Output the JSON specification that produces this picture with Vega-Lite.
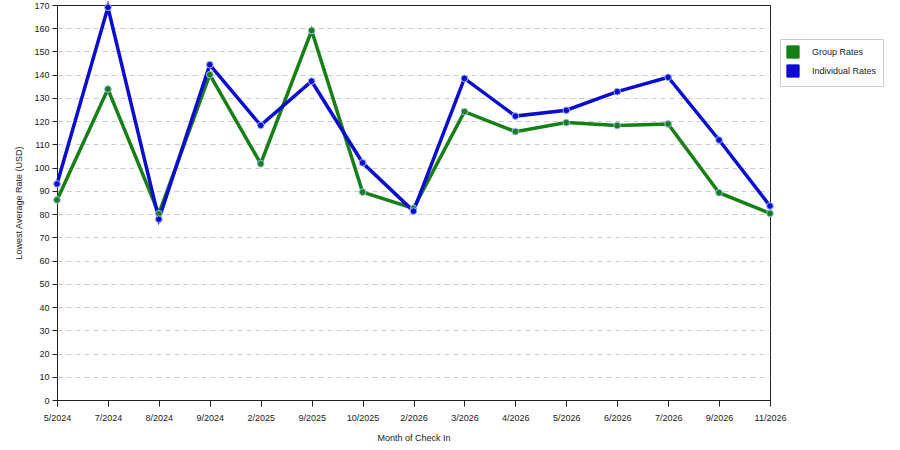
{
  "$schema": "https://vega.github.io/schema/vega-lite/v6.json",
  "width": 713,
  "height": 395,
  "autosize": {"type": "none"},
  "padding": {"left": 57, "top": 5, "right": 130, "bottom": 50},
  "config": {
    "font": "Liberation Sans",
    "view": {"stroke": "#222", "strokeWidth": 1},
    "axis": {
      "labelFont": "Liberation Sans",
      "titleFont": "Liberation Sans",
      "labelFontSize": 9,
      "titleFontSize": 9,
      "titleFontWeight": "normal",
      "labelColor": "#222",
      "titleColor": "#222",
      "domainColor": "#222",
      "tickColor": "#222"
    }
  },
  "data": {
    "values": [
      {"month": "5/2024", "series": "Group Rates", "rate": 86.1},
      {"month": "7/2024", "series": "Group Rates", "rate": 133.8},
      {"month": "8/2024", "series": "Group Rates", "rate": 80.2},
      {"month": "9/2024", "series": "Group Rates", "rate": 140},
      {"month": "2/2025", "series": "Group Rates", "rate": 101.7},
      {"month": "9/2025", "series": "Group Rates", "rate": 159},
      {"month": "10/2025", "series": "Group Rates", "rate": 89.5},
      {"month": "2/2026", "series": "Group Rates", "rate": 82.5},
      {"month": "3/2026", "series": "Group Rates", "rate": 124.1},
      {"month": "4/2026", "series": "Group Rates", "rate": 115.5},
      {"month": "5/2026", "series": "Group Rates", "rate": 119.4},
      {"month": "6/2026", "series": "Group Rates", "rate": 118.1},
      {"month": "7/2026", "series": "Group Rates", "rate": 118.8},
      {"month": "9/2026", "series": "Group Rates", "rate": 89.2},
      {"month": "11/2026", "series": "Group Rates", "rate": 80.3},
      {"month": "5/2024", "series": "Individual Rates", "rate": 93},
      {"month": "7/2024", "series": "Individual Rates", "rate": 169},
      {"month": "8/2024", "series": "Individual Rates", "rate": 77.8},
      {"month": "9/2024", "series": "Individual Rates", "rate": 144.3},
      {"month": "2/2025", "series": "Individual Rates", "rate": 118.2},
      {"month": "9/2025", "series": "Individual Rates", "rate": 137.2},
      {"month": "10/2025", "series": "Individual Rates", "rate": 102.1},
      {"month": "2/2026", "series": "Individual Rates", "rate": 81.3},
      {"month": "3/2026", "series": "Individual Rates", "rate": 138.4},
      {"month": "4/2026", "series": "Individual Rates", "rate": 122.2},
      {"month": "5/2026", "series": "Individual Rates", "rate": 124.7},
      {"month": "6/2026", "series": "Individual Rates", "rate": 132.7},
      {"month": "7/2026", "series": "Individual Rates", "rate": 138.9},
      {"month": "9/2026", "series": "Individual Rates", "rate": 111.9},
      {"month": "11/2026", "series": "Individual Rates", "rate": 83.5}
    ]
  },
  "encoding": {
    "x": {
      "field": "month",
      "type": "ordinal",
      "sort": ["5/2024", "7/2024", "8/2024", "9/2024", "2/2025", "9/2025", "10/2025", "2/2026", "3/2026", "4/2026", "5/2026", "6/2026", "7/2026", "9/2026", "11/2026"],
      "scale": {"type": "point", "padding": 0},
      "axis": {"title": "Month of Check In", "labelAngle": 0, "tickSize": 6, "labelPadding": 7, "titlePadding": 11, "grid": false}
    },
    "y": {
      "field": "rate",
      "type": "quantitative",
      "scale": {"domain": [0, 170], "nice": false},
      "axis": {
        "title": "Lowest Average Rate (USD)",
        "values": [0, 10, 20, 30, 40, 50, 60, 70, 80, 90, 100, 110, 120, 130, 140, 150, 160, 170],
        "tickSize": 5,
        "labelPadding": 3,
        "titlePadding": 10,
        "grid": true,
        "gridColor": "#cccccc",
        "gridDash": [5, 4],
        "gridOpacity": {"condition": {"test": "datum.value === 170 || datum.value === 0", "value": 0}, "value": 1}
      }
    },
    "color": {
      "field": "series",
      "type": "nominal",
      "scale": {"domain": ["Group Rates", "Individual Rates"], "range": ["#168016", "#0c0cd0"]},
      "legend": {
        "title": null,
        "orient": "none",
        "legendX": 723,
        "legendY": 34,
        "symbolType": "square",
        "symbolSize": 150,
        "symbolStrokeColor": "#333",
        "symbolStrokeWidth": 1,
        "symbolOpacity": 1,
        "labelFont": "Liberation Sans",
        "labelFontSize": 9,
        "labelColor": "#222",
        "labelOffset": 12,
        "rowPadding": 1,
        "padding": 6,
        "fillColor": "white",
        "strokeColor": "#cccccc"
      }
    }
  },
  "layer": [
    {"mark": {"type": "line", "strokeWidth": 3.5}},
    {"mark": {"type": "point", "filled": true, "size": 45, "opacity": 1, "stroke": "#9fb8ff", "strokeWidth": 1}}
  ]
}
